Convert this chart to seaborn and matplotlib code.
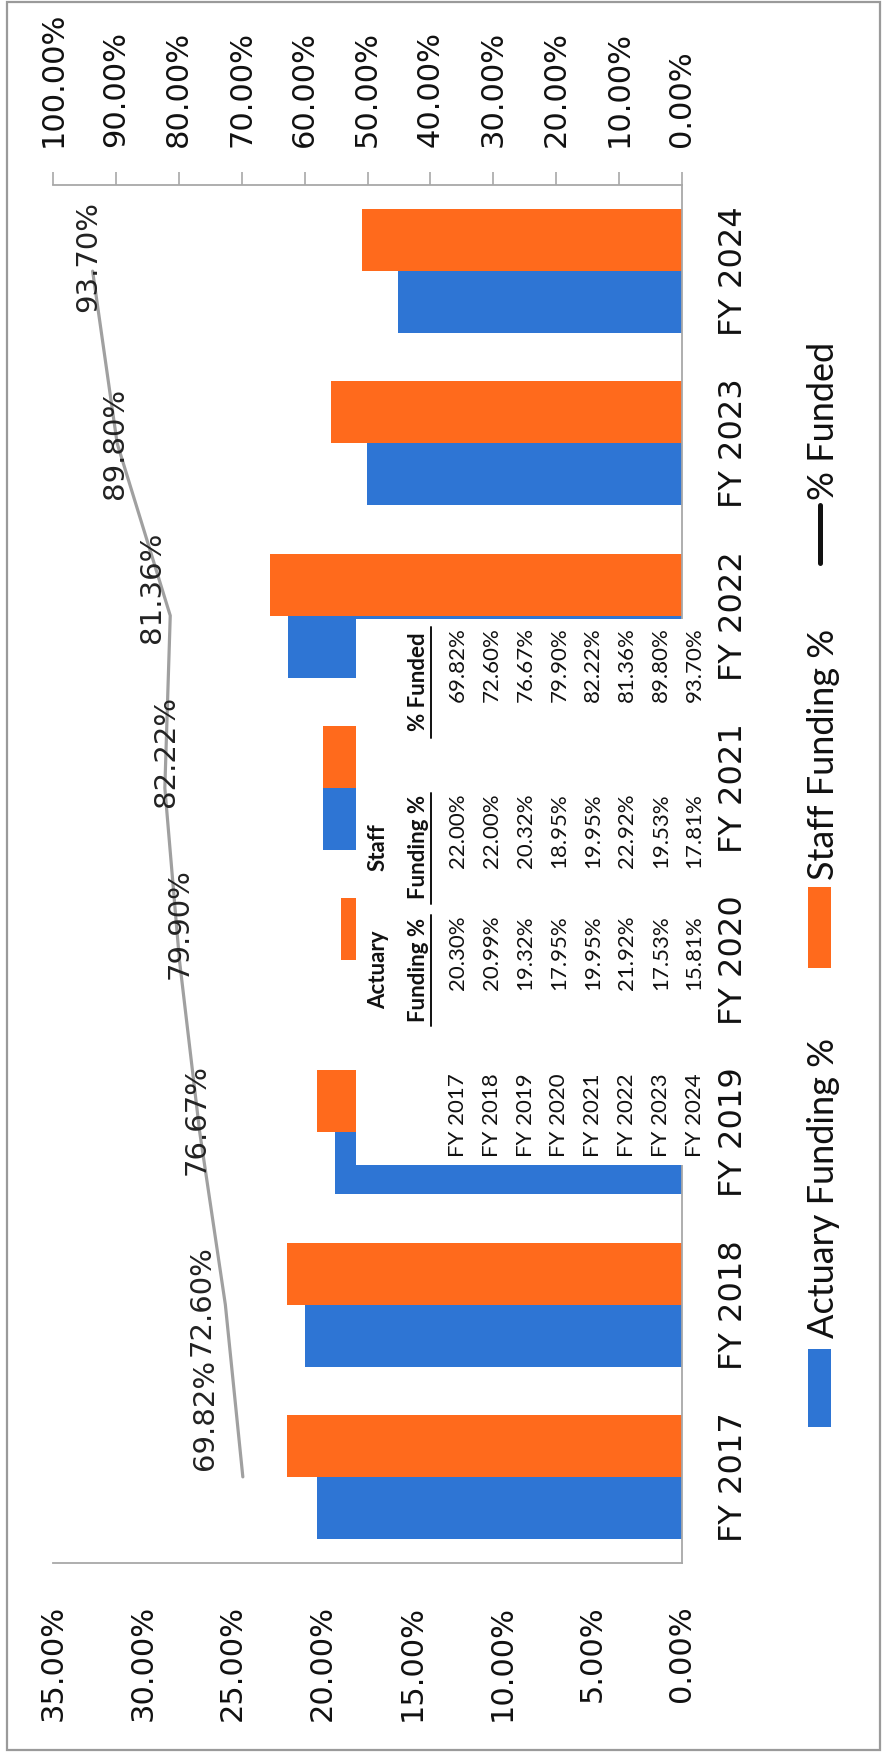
import numpy as np
import pandas as pd
import matplotlib
matplotlib.use("Agg")
import matplotlib.pyplot as plt
from matplotlib.patches import Rectangle
from matplotlib.lines import Line2D
import seaborn as sns

# ---------------- data ----------------
years = ["FY 2017", "FY 2018", "FY 2019", "FY 2020", "FY 2021", "FY 2022", "FY 2023", "FY 2024"]
actuary_pct = [20.30, 20.99, 19.32, 17.95, 19.95, 21.92, 17.53, 15.81]
staff_pct = [22.00, 22.00, 20.32, 18.95, 19.95, 22.92, 19.53, 17.81]
funded_pct = [69.82, 72.60, 76.67, 79.90, 82.22, 81.36, 89.80, 93.70]
primary_ticks = [0, 5, 10, 15, 20, 25, 30, 35]
secondary_ticks = [0, 10, 20, 30, 40, 50, 60, 70, 80, 90, 100]
series_names = ["Actuary Funding %", "Staff Funding %", "% Funded"]
table_headers = [("Actuary", "Funding %"), ("Staff", "Funding %"), ("", "% Funded")]

# data-label nudges (pixels, right/down) relative to each line point
label_offsets_px = [(-38, -62), (-24, -4), (-3, -13), (0, -37), (1, -36), (-18, -28), (-2, 0), (-5, -15)]

# ---------------- style ----------------
sns.set_style("white")
plt.rcParams["font.family"] = ["DejaVu Sans"]

W, H, DPI = 882, 1753, 100
PT = 72 / DPI
BLUE = "#2E75D4"
ORANGE = "#FF6A1C"
LINE_GRAY = "#A0A0A0"
AXIS_GRAY = "#A8A8A8"
TXT = "#111111"

fig = plt.figure(figsize=(W / DPI, H / DPI), dpi=DPI)
fig.patch.set_facecolor("white")


def fx(px):
    return px / W


def fy(py):
    return 1 - py / H


L, R, T, B = 53, 682, 185, 1563
ax = fig.add_axes([fx(L), fy(B), fx(R) - fx(L), fy(T) - fy(B)])

df = pd.DataFrame({
    "year": years * 2,
    "value": actuary_pct + staff_pct,
    "series": [series_names[0]] * len(years) + [series_names[1]] * len(years),
})
sns.barplot(data=df, x="value", y="year", hue="series", order=years,
            hue_order=series_names[:2], palette=[BLUE, ORANGE], orient="h",
            width=0.72, saturation=1, errorbar=None, linewidth=0,
            legend=False, ax=ax)

ax2 = ax.twiny()
line_df = pd.DataFrame({"pos": np.arange(len(years)), "funded": funded_pct})
sns.lineplot(data=line_df, x="funded", y="pos", orient="y", sort=False,
             estimator=None, color=LINE_GRAY, linewidth=2.3, ax=ax2)

ax.set_xlim(35, 0)
ax2.set_xlim(100, 0)
ax.set_ylim(-0.5, len(years) - 0.5)

for i, (v, (dx, dy)) in enumerate(zip(funded_pct, label_offsets_px)):
    ax2.annotate(f"{v:.2f}%", xy=(v, i), xytext=(dx * PT, -dy * PT),
                 textcoords="offset points", rotation=90, ha="center",
                 va="center", fontsize=21, color="#222222")

# primary axis (bottom)
ax.set_xticks(primary_ticks)
ax.set_xticklabels([f"{t:.2f}%" for t in primary_ticks])
ax.tick_params(axis="x", bottom=True, top=False, length=0, pad=42 * PT,
               labelsize=22, labelrotation=90, labelcolor=TXT)
ax.set_xlabel("")
ax.set_ylabel("")

# category axis (right)
ax.yaxis.tick_right()
ax.set_yticks(range(len(years)))
ax.set_yticklabels(years)
ax.tick_params(axis="y", left=False, right=True, labelleft=False,
               labelright=True, length=0, pad=36 * PT, labelsize=23,
               labelrotation=90, labelcolor=TXT)
for lab in ax.get_yticklabels():
    lab.set_va("center")

for side in ["left", "top"]:
    ax.spines[side].set_visible(False)
for side in ["right", "bottom"]:
    ax.spines[side].set_color(AXIS_GRAY)
    ax.spines[side].set_linewidth(1.3)

# secondary axis (top)
ax2.set_xticks(secondary_ticks)
ax2.set_xticklabels([f"{t:.2f}%" for t in secondary_ticks])
ax2.tick_params(axis="x", top=True, bottom=False, labeltop=True,
                labelbottom=False, direction="out", length=13 * PT,
                width=1.2, color=AXIS_GRAY, pad=25 * PT, labelsize=22,
                labelrotation=90, labelcolor=TXT)
ax2.tick_params(axis="y", left=False, right=False, labelleft=False,
                labelright=False)
ax2.set_xlabel("")
ax2.set_ylabel("")
for side in ["left", "right", "bottom"]:
    ax2.spines[side].set_visible(False)
ax2.spines["top"].set_color(AXIS_GRAY)
ax2.spines["top"].set_linewidth(1.3)

# ---------------- overlay: frame, table, legend ----------------
ov = fig.add_axes([0, 0, 1, 1])
ov.set_xlim(0, W)
ov.set_ylim(H, 0)
ov.axis("off")

ov.add_patch(Rectangle((7, 2), 873, 1748, fill=False, ec="#9A9A9A", lw=1.6))

# embedded data table (white box)
ov.add_patch(Rectangle((356, 619), 356, 546, fc="white", ec="none", zorder=2))
TFONT = ["Lato", "DejaVu Sans"]
tsize = 16
row_base_x = 464
row_step = 33.8
col_end_y = [915, 793, 627]
col_center_y = [970, 847, 682]
col_values = [actuary_pct, staff_pct, funded_pct]
for i, yr in enumerate(years):
    bx = row_base_x + row_step * i
    ov.text(bx, 1157, yr, rotation=90, rotation_mode="anchor", ha="left",
            va="baseline", fontsize=tsize, family=TFONT, color=TXT, zorder=3)
    for c, vals in enumerate(col_values):
        ov.text(bx, col_end_y[c], f"{vals[i]:.2f}%", rotation=90,
                rotation_mode="anchor", ha="right", va="baseline",
                fontsize=tsize, family=TFONT, color=TXT, zorder=3)
for c, (h1, h2) in enumerate(table_headers):
    if h1:
        ov.text(385, col_center_y[c], h1, rotation=90, rotation_mode="anchor",
                ha="center", va="baseline", fontsize=tsize, family=TFONT,
                weight="bold", color=TXT, zorder=3)
    ov.text(425, col_center_y[c], h2, rotation=90, rotation_mode="anchor",
            ha="center", va="baseline", fontsize=tsize, family=TFONT,
            weight="bold", color=TXT, zorder=3)
    ov.add_line(Line2D([431, 431], [col_end_y[c], col_end_y[c] + 111],
                       color=TXT, lw=1.4, zorder=3))

# legend (rotated)
LFONT = ["Lato", "DejaVu Sans"]
lsize = 26
ov.add_patch(Rectangle((808, 1349), 23, 78, fc=BLUE, ec="none"))
ov.text(834, 1338, series_names[0], rotation=90, rotation_mode="anchor",
        ha="left", va="baseline", fontsize=lsize, family=LFONT, color=TXT)
ov.add_patch(Rectangle((808, 887), 23, 81, fc=ORANGE, ec="none"))
ov.text(834, 880, series_names[1], rotation=90, rotation_mode="anchor",
        ha="left", va="baseline", fontsize=lsize, family=LFONT, color=TXT)
ov.add_line(Line2D([820, 820], [505, 563], color="#111111", lw=3.6))
ov.text(834, 500, series_names[2], rotation=90, rotation_mode="anchor",
        ha="left", va="baseline", fontsize=lsize, family=LFONT, color=TXT)

fig.savefig("out.png", dpi=DPI, facecolor="white")
